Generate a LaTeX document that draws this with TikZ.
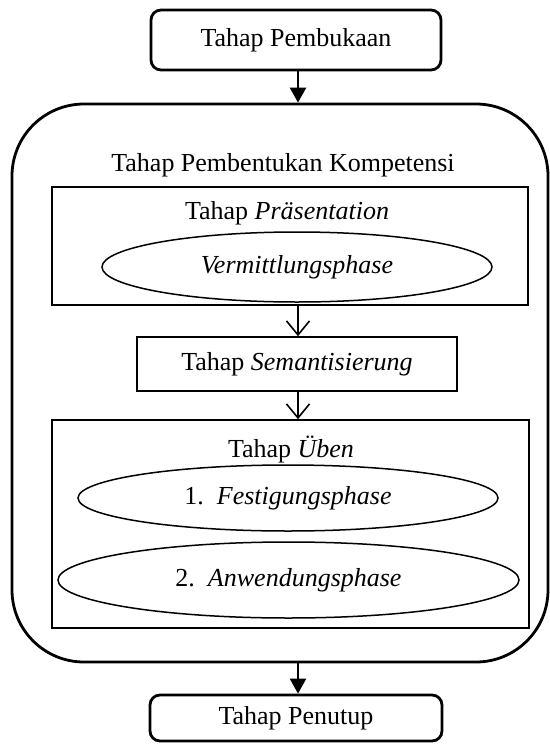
\documentclass[tikz,border=0pt]{standalone}
\usepackage{fontspec}
\setmainfont{Liberation Serif}
\usetikzlibrary{shapes.geometric,arrows.meta}
\begin{document}
\begin{tikzpicture}[x=1pt,y=-1pt,
  every node/.style={font=\fontsize{26}{30}\selectfont, inner sep=0pt},
  roundbox/.style={draw, line width=2.8pt, rounded corners=10pt},
  bigbox/.style={draw, line width=2.8pt, rounded corners=72pt},
  plainbox/.style={draw, line width=1.6pt},
  oval/.style={draw, ellipse, line width=1.5pt},
  solidarrow/.style={line width=2.6pt, -{Triangle[width=16pt,length=15pt]}},
  openarrow/.style={line width=1.6pt, -{Straight Barb[width=23pt,length=14pt,line width=1.6pt]}}
]
\useasboundingbox (0,0) rectangle (549,747);
\node[roundbox, minimum width=290pt, minimum height=60pt] (open) at (296,40) {Tahap Pembukaan};
\node[bigbox, minimum width=536pt, minimum height=558pt] (big) at (280,383) {};
\node (title) at (283,165) {Tahap Pembentukan Kompetensi};
\node[plainbox, minimum width=476pt, minimum height=118pt] (pres) at (290,246) {};
\node (prest) at (287,213) {Tahap \textit{Präsentation}};
\node[oval, minimum width=390pt, minimum height=70pt] (verm) at (297,267) {\textit{Vermittlungsphase}};
\node[plainbox, minimum width=320pt, minimum height=54pt] (sem) at (297,364) {Tahap \textit{Semantisierung}};
\node[plainbox, minimum width=477pt, minimum height=208pt] (uben) at (290.5,524) {};
\node (ubent) at (291,449) {Tahap \textit{Üben}};
\node[oval, minimum width=420pt, minimum height=66pt] (fest) at (288,498) {1.\ \ \textit{Festigungsphase}};
\node[oval, minimum width=461pt, minimum height=76pt] (anw) at (288.5,580) {2.\ \ \textit{Anwendungsphase}};
\node[roundbox, minimum width=292pt, minimum height=46pt] (close) at (296,718) {Tahap Penutup};
\coordinate (ax) at (298,0);
\draw[solidarrow] (ax |- open.south) -- (ax |- big.north);
\draw[openarrow] (ax |- pres.south) -- (ax |- sem.north);
\draw[openarrow] (ax |- sem.south) -- (ax |- uben.north);
\draw[solidarrow] (ax |- big.south) -- (ax |- close.north);
\end{tikzpicture}
\end{document}
